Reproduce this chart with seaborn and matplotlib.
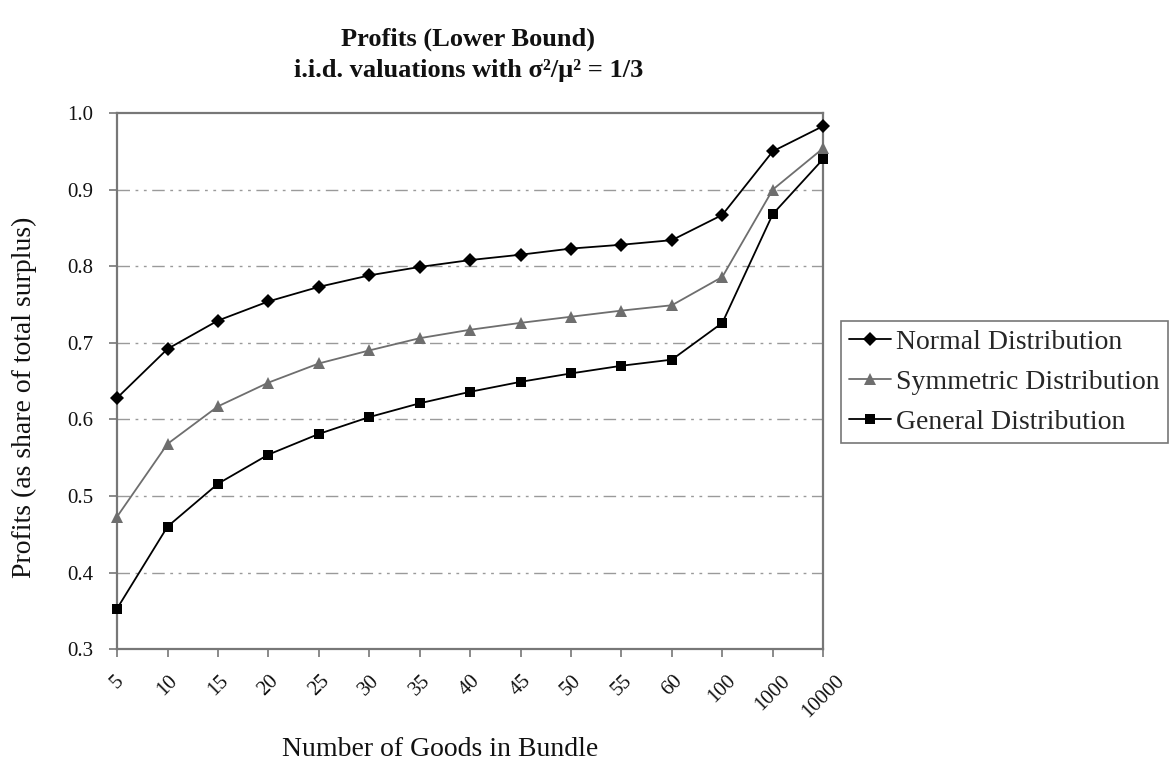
import matplotlib
matplotlib.use("Agg")
import matplotlib.pyplot as plt
import seaborn as sns
import pandas as pd
import numpy as np

categories = ["5", "10", "15", "20", "25", "30", "35", "40", "45", "50", "55", "60", "100", "1000", "10000"]
normal = [0.628, 0.692, 0.729, 0.754, 0.773, 0.788, 0.799, 0.808, 0.815, 0.823, 0.828, 0.834, 0.867, 0.950, 0.983]
symmetric = [0.473, 0.568, 0.617, 0.648, 0.673, 0.690, 0.706, 0.717, 0.726, 0.734, 0.742, 0.749, 0.786, 0.900, 0.954]
general = [0.353, 0.460, 0.516, 0.554, 0.581, 0.603, 0.621, 0.636, 0.649, 0.660, 0.670, 0.678, 0.726, 0.868, 0.940]
series_names = ["Normal Distribution", "Symmetric Distribution", "General Distribution"]
y_ticks = [0.3, 0.4, 0.5, 0.6, 0.7, 0.8, 0.9, 1.0]

sns.set_theme(style="white")
plt.rcParams['font.family'] = ['Liberation Serif', 'DejaVu Serif']

rows = []
for name, vals in zip(series_names, [normal, symmetric, general]):
    for i, (c, v) in enumerate(zip(categories, vals)):
        rows.append({"pos": i, "cat": c, "value": v, "series": name})
df = pd.DataFrame(rows)

fig = plt.figure(figsize=(11.71, 7.61), dpi=100)
ax = fig.add_axes([0.1, 0.147, 0.603, 0.7045])

palette = {"Normal Distribution": "#000000", "Symmetric Distribution": "#6e6e6e", "General Distribution": "#000000"}
markers = {"Normal Distribution": "D", "Symmetric Distribution": "^", "General Distribution": "s"}
sizes = {"Normal Distribution": 7, "Symmetric Distribution": 9, "General Distribution": 7.5}

for name in series_names:
    sub = df[df["series"] == name]
    sns.lineplot(data=sub, x="pos", y="value", ax=ax, color=palette[name], marker=markers[name],
                 markersize=sizes[name], markeredgewidth=0, linewidth=1.3, label=name, sort=False,
                 clip_on=False, zorder=3)

ax.set_xlim(0, len(categories) - 1)
ax.set_ylim(0.3, 1.0)
ax.set_yticks(y_ticks)
ax.set_yticklabels([f"{t:.1f}" for t in y_ticks], fontsize=15)
ax.set_xticks(range(len(categories)))
ax.set_xticklabels(categories, rotation=45, fontsize=15, ha="center", va="top")

for t in y_ticks[1:-1]:
    ax.axhline(t, color="#9a9a9a", linewidth=1.0, dashes=(9, 4, 2, 4, 2, 4), zorder=1)

for s in ax.spines.values():
    s.set_color("#777777")
    s.set_linewidth(1.6)

ax.tick_params(axis="both", which="both", direction="out", length=6, width=1.2, color="#777777",
               bottom=True, left=True, labelcolor="#111111")
ax.tick_params(axis="y", pad=11)
ax.tick_params(axis="x", pad=10)

ax.set_xlabel("Number of Goods in Bundle", fontsize=20, color="#111111")
ax.set_ylabel("Profits (as share of total surplus)", fontsize=20, color="#111111")
ax.xaxis.set_label_coords(0.457, -0.163)
ax.yaxis.set_label_coords(-0.113, 0.47)

fig.text(0.40, 0.948, "Profits (Lower Bound)", ha="center", va="center", fontsize=19, fontweight="bold", color="#111111")
fig.text(0.40, 0.908, "i.i.d. valuations with σ²/μ² = 1/3", ha="center", va="center",
         fontsize=19, fontweight="bold", color="#111111")

leg = ax.legend(loc="center left", bbox_to_anchor=(1.025, 0.498), frameon=True, fontsize=20,
                handlelength=1.5, handletextpad=0.2, borderpad=0.3, labelspacing=0.52,
                fancybox=False, borderaxespad=0)
leg.get_frame().set_edgecolor("#555555")
leg.get_frame().set_linewidth(1.2)

fig.savefig("out.png", dpi=100, facecolor="white")
